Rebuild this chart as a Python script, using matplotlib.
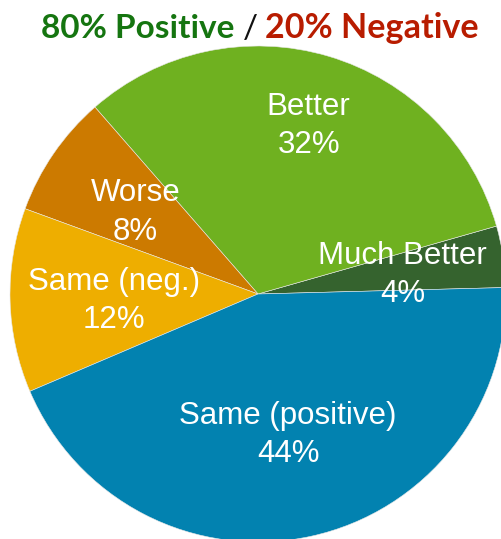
import matplotlib
matplotlib.use("Agg")
import numpy as np
import matplotlib.pyplot as plt

# ---------- données ----------
labels = ["Much Better", "Better", "Worse", "Same (neg.)", "Same (positive)"]
values = [4, 32, 8, 12, 44]
colors = ["#35632e", "#6fb120", "#cc7a00", "#eeae00", "#0282b0"]
label_dist = [0.59, 0.72, 0.60, 0.58, 0.57]
title_pos = "80% Positive"
title_neg = "20% Negative"
# -----------------------------

W, H = 502, 539
fig = plt.figure(figsize=(W / 100, H / 100), dpi=100)

# centre du camembert (258, 294) px, rayon 248 px
cx, cy, r = 258, 294, 248
ax = fig.add_axes([(cx - r) / W, (H - cy - r) / H, 2 * r / W, 2 * r / H])
wedges, _ = ax.pie(values, colors=colors, startangle=1.5, counterclock=True,
                   radius=1.0, labeldistance=None,
                   wedgeprops=dict(linewidth=0.4, edgecolor="#e8e8e8"))
ax.set_xlim(-1, 1)
ax.set_ylim(-1, 1)
ax.set_aspect("equal")
ax.axis("off")

dy = -3 / r  # petit décalage vertical des étiquettes
for w, lab, v, d in zip(wedges, labels, values, label_dist):
    ang = np.deg2rad((w.theta1 + w.theta2) / 2)
    ax.text(d * np.cos(ang), d * np.sin(ang) + dy, f"{lab}\n{v}%",
            ha="center", va="center", color="white", fontsize=22.5,
            family="Liberation Sans", linespacing=1.37)

ty = 1 - 38 / H
kw = dict(fontsize=24, fontweight="bold", family="Lato", va="baseline")
fig.text(234 / W, ty, title_pos, ha="right", color="#157510", **kw)
fig.text(250 / W, ty, "/", ha="center", color="#111111", fontsize=24,
         family="Lato", va="baseline")
fig.text(265 / W, ty, title_neg, ha="left", color="#b81c00",
         **{**kw, "fontsize": 24.6})

fig.savefig("out.png", dpi=100)
